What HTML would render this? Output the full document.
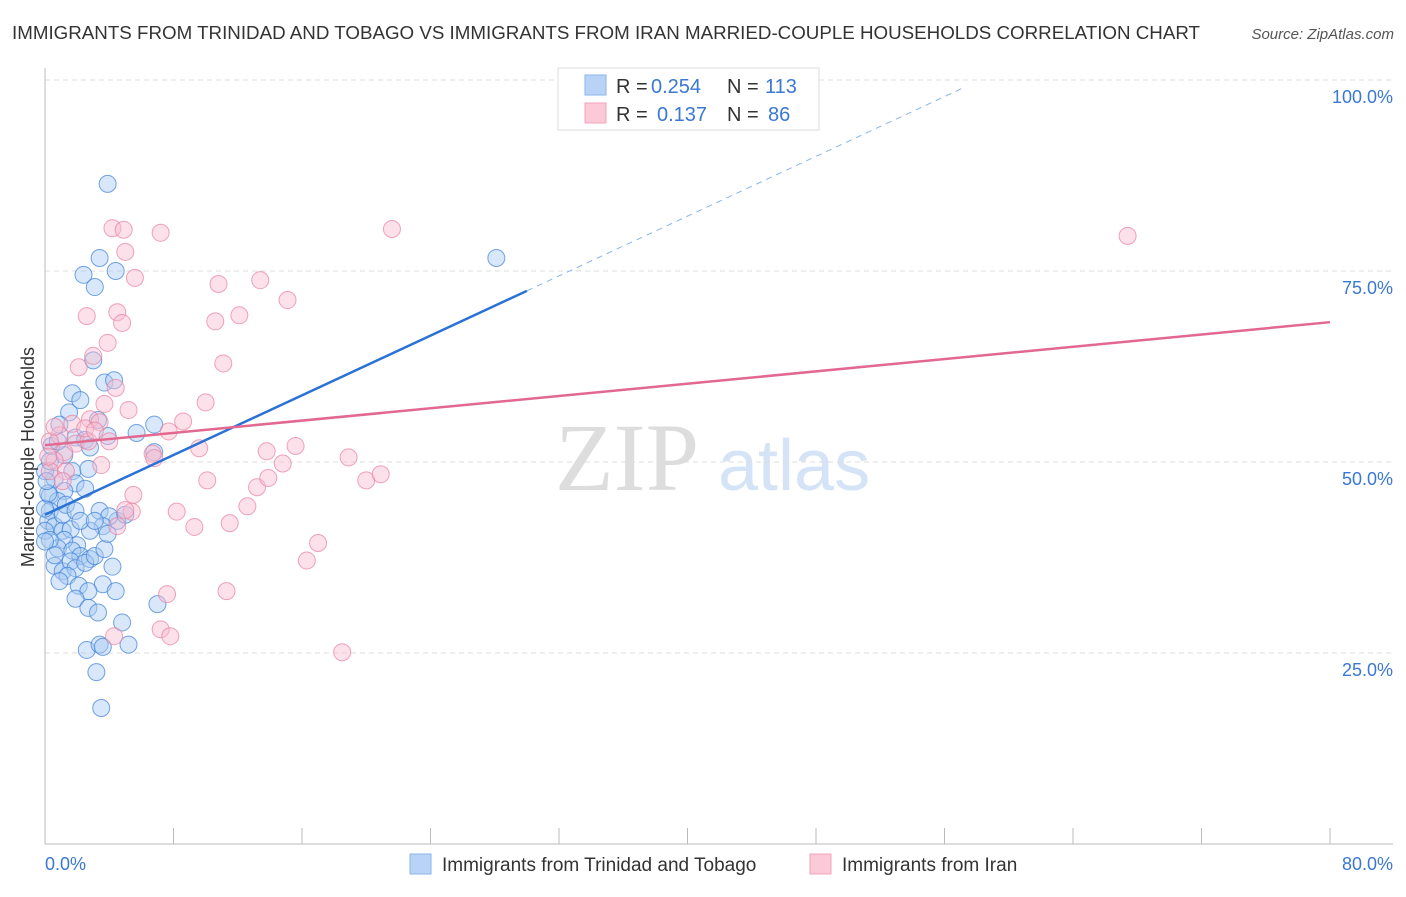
<!DOCTYPE html>
<html><head><meta charset="utf-8"><style>
body{margin:0;background:#fff;font-family:"Liberation Sans",sans-serif;}
</style></head><body>
<svg id="chart" width="1406" height="892" xmlns="http://www.w3.org/2000/svg" font-family="Liberation Sans, sans-serif">
<text x="12" y="39" font-size="18" fill="#333" textLength="1188" lengthAdjust="spacingAndGlyphs">IMMIGRANTS FROM TRINIDAD AND TOBAGO VS IMMIGRANTS FROM IRAN MARRIED-COUPLE HOUSEHOLDS CORRELATION CHART</text>
<text x="1394" y="39" font-size="15" fill="#555" font-style="italic" text-anchor="end">Source: ZipAtlas.com</text>
<g>
<text x="555" y="490" font-size="96" fill="#ddd" font-family="Liberation Serif, serif">ZIP</text>
<text x="718" y="490" font-size="72" fill="#d4e4f6">atlas</text>
</g>
<g id="grid"></g>
<g id="axes"></g>
<g id="marks"></g>
<text transform="translate(34,457) rotate(-90)" font-size="18" fill="#333" text-anchor="middle">Married-couple Households</text>
<g font-size="20">
<rect x="558" y="68" width="261" height="62" fill="#fff" stroke="#ddd"/>
<rect x="585" y="75" width="21" height="20" fill="#b8d3f5" stroke="#8ab4ea"/>
<rect x="585" y="103" width="21" height="20" fill="#fbc9d8" stroke="#f1a3bb"/>
<text x="616" y="93" fill="#333">R =</text>
<text x="651" y="93" fill="#3a78d4">0.254</text>
<text x="727" y="93" fill="#333">N =</text>
<text x="765" y="93" fill="#3a78d4">113</text>
<text x="616" y="121" fill="#333">R =</text>
<text x="657" y="121" fill="#3a78d4">0.137</text>
<text x="727" y="121" fill="#333">N =</text>
<text x="768" y="121" fill="#3a78d4">86</text>
</g>
<g>
<rect x="410" y="854" width="21" height="20" fill="#b8d3f5" stroke="#8ab4ea"/>
<text x="442" y="871" font-size="19" fill="#333">Immigrants from Trinidad and Tobago</text>
<rect x="810" y="854" width="21" height="20" fill="#fbc9d8" stroke="#f1a3bb"/>
<text x="842" y="871" font-size="19" fill="#333">Immigrants from Iran</text>
</g>
</svg>
<script>
const yTicks=[25,50,75,100];
const yTickLabels=["25.0%","50.0%","75.0%","100.0%"];
const xTickLabels=["0.0%","80.0%"];
const blueX=[3.9,3.4,2.4,4.4,3.1,28.1,3.0,3.7,4.3,1.7,1.5,2.2,3.3,6.8,3.9,5.7,0.9,1.9,2.5,1.2,2.8,6.8,1.7,2.7,0.6,1.9,1.2,0.3,2.5,0.8,0.3,0.2,0.6,1.1,1.6,0.0,0.2,3.4,4.5,4.0,3.6,2.8,2.0,1.2,0.8,1.7,2.2,2.8,0.6,1.1,1.6,1.9,2.5,3.1,3.7,1.4,0.9,2.1,4.2,3.6,2.7,4.4,1.9,2.7,3.3,4.8,7.0,2.6,3.4,3.6,5.2,3.2,3.5,0.0,0.1,0.3,0.4,0.8,0.0,0.3,0.6,0.0,1.1,1.3,1.9,2.2,3.1,5.0,3.9];
const blueY=[86.4,76.7,74.5,75.0,72.9,76.7,63.3,60.4,60.7,59.0,56.5,58.1,55.5,54.9,53.4,53.8,54.9,53.2,52.9,50.9,51.9,51.3,48.8,49.1,47.8,47.2,46.2,45.6,46.5,44.9,43.6,42.3,41.6,41.0,41.2,43.9,45.9,43.6,42.3,42.9,41.6,41.0,39.1,39.8,38.7,38.4,37.7,37.3,36.4,35.7,37.0,36.1,36.8,37.7,38.6,35.1,34.4,33.8,36.3,34.0,33.1,33.1,32.1,30.9,30.3,29.0,31.4,25.4,26.1,25.8,26.1,22.5,17.8,48.8,47.5,50.1,52.1,52.7,41.0,39.8,37.8,39.6,43.1,44.4,43.6,42.3,42.3,43.1,40.6];
const pinkX=[4.2,4.9,7.2,21.6,67.4,5.0,5.6,13.4,10.8,15.1,2.6,4.5,4.8,10.6,12.1,11.1,3.9,2.1,3.0,4.4,3.7,5.2,8.6,10.0,1.7,2.8,3.4,0.9,1.9,2.7,4.0,1.2,0.6,0.3,6.7,6.8,7.7,9.6,15.6,13.8,14.8,18.9,20.0,20.9,10.1,8.2,9.3,11.5,12.6,13.2,13.9,3.5,5.5,5.4,5.0,17.0,16.3,7.6,11.3,7.2,7.8,4.3,18.5,0.3,0.2,0.6,2.5,3.1,1.3,4.5,1.1];
const pinkY=[80.6,80.4,80.0,80.5,79.6,77.5,74.1,73.8,73.3,71.2,69.1,69.6,68.2,68.4,69.2,62.9,65.6,62.4,63.9,59.7,57.6,56.8,55.3,57.8,55.0,55.6,55.2,53.5,52.4,52.7,52.7,51.3,50.2,48.8,51.1,50.5,54.0,51.8,52.1,51.4,49.8,50.6,47.6,48.4,47.6,43.5,41.5,42.0,44.2,46.7,47.9,49.6,45.7,43.5,43.7,39.4,37.1,32.7,33.1,28.1,27.2,27.2,25.1,52.7,50.7,54.6,54.4,54.1,48.8,41.6,47.5];
const blueTrend=[[0,43.1],[30,72.4]], blueDash=[[30,72.4],[57.3,99.1]];
const pinkTrend=[[0,52.2],[80,68.3]];
const NS="http://www.w3.org/2000/svg";
const X=v=>45+v/80*1285, Y=v=>844-v/100*764;
function mk(t,a,p){const e=document.createElementNS(NS,t);for(const k in a)e.setAttribute(k,a[k]);p.appendChild(e);return e;}
const grid=document.getElementById('grid'),axes=document.getElementById('axes'),marks=document.getElementById('marks');
yTicks.forEach((t,i)=>{
 const l=mk('line',{x1:45,x2:1393,y1:Y(t),y2:Y(t),stroke:'#ddd','stroke-dasharray':'5,4'},grid);
 
 
 const tx=mk('text',{x:1393,y:Y(t)+23,'font-size':18,fill:'#3a78d4','text-anchor':'end'},axes);
 tx.textContent=yTickLabels[i];
 
 
});
const ax=mk('line',{x1:45,x2:45,y1:68,y2:844,stroke:'#bbb'},axes);


const bx=mk('line',{x1:45,x2:1393,y1:844,y2:844,stroke:'#bbb'},axes);


for(let v=0;v<=80;v+=8){const t=mk('line',{x1:X(v),x2:X(v),y1:828,y2:844,stroke:'#bbb'},axes);
 
 }
[[0,'start',45],[80,'end',1393]].forEach((d,i)=>{const t=mk('text',{x:d[2],y:870,'font-size':18,fill:'#3a78d4','text-anchor':d[1]},axes);t.textContent=xTickLabels[i];
 
 });
function pts(xs,ys,fill,stroke,name){xs.forEach((x,i)=>{const c=mk('circle',{cx:X(x),cy:Y(ys[i]),r:8.5,fill:fill,'fill-opacity':0.45,stroke:stroke,'stroke-opacity':0.7,'stroke-width':1},marks);
 
 });}
pts(blueX,blueY,'#a9c9f2','#3a7fd8','trinidad-point');
pts(pinkX,pinkY,'#f8bcd0','#e87fa0','iran-point');
function line(p,col,dash,name){const l=mk('line',{x1:X(p[0][0]),y1:Y(p[0][1]),x2:X(p[1][0]),y2:Y(p[1][1]),stroke:col,'stroke-width':dash?1:2.5},marks);if(dash)l.setAttribute('stroke-dasharray','6,5');
 
 }
line(blueTrend,'#2a72d6',false,'trinidad-trend-line');
line(blueDash,'#8ab4ea',true,'trinidad-trend-extension');
line(pinkTrend,'#e2688f',false,'iran-trend-line');
</script>
</body></html>
